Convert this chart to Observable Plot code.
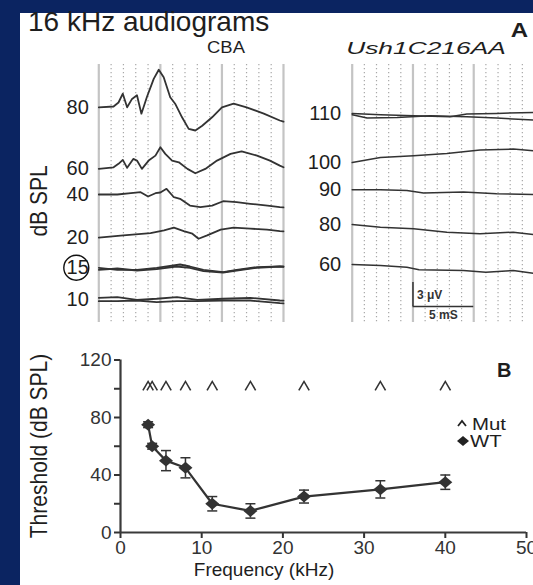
<!DOCTYPE html>
<html><head><meta charset="utf-8">
<script src="https://cdn.jsdelivr.net/npm/d3@7"></script>
<script src="https://cdn.jsdelivr.net/npm/@observablehq/plot@0.6"></script>
<style>
html,body{margin:0;padding:0;width:533px;height:585px;overflow:hidden;background:#0b2461;font-family:"Liberation Sans",Arial,sans-serif;}
#page{position:absolute;left:20px;top:13px;width:513px;height:572px;background:#fff;}
.lbl{position:absolute;white-space:nowrap;line-height:1;color:#1e1e1e;font-family:"Liberation Sans",Arial,sans-serif;}
svg.pl{position:absolute;max-width:none;overflow:hidden;}
</style></head><body>
<div id="page"></div>
<div id="root" style="position:absolute;left:0;top:0;width:533px;height:585px;"></div>
<script>
// ---------- Panel A data (time in ms, amplitude in µV) ----------
const gridMajor = [0, 5, 10, 15];
const gridMinor = [1, 2, 3, 4, 6, 7, 8, 9, 11, 12, 13, 14];

const cbaLevels = ["80", "60", "40", "20", "15", "10"];
const cbaOffsets = [26.9, 19.2, 16.0, 10.6, 6.84, 2.84];

const cba80T = [0,1.2,1.6,1.95,2.3,2.7,3.1,3.46,3.9,4.46,4.87,5.27,5.8,6.2,6.76,7.3,7.84,8.4,9.2,10,10.95,12,13.4,14.7,15];
const cba80A = [0,0.1,0.6,1.7,0,1.05,1.5,-0.8,1.25,3.55,4.7,3.75,1.25,0.45,-1.25,-2.7,-2.9,-2.3,-1.25,0,0.45,0,-0.8,-1.65,-1.8];
const cba60T = [0,1.2,1.6,1.95,2.3,2.8,3.1,3.5,4.05,4.6,5.0,5.4,5.95,6.5,7.2,7.84,8.65,9.6,10.7,11.6,12.85,13.9,14.7,15];
const cba60A = [0,0.2,0.63,1.13,0.13,1.25,1.04,0,1.04,1.66,2.7,1.88,1.04,0.83,0,-0.55,0,1.04,1.88,2.2,1.66,1.04,0.41,0.2];
const cba40T = [0,1.5,2.6,3.4,4.0,4.6,5.0,5.5,6.1,6.6,7.4,8.25,9.2,10.1,11.2,12.3,13.7,14.7,15];
const cba40A = [0,0,0.16,0.29,-0.25,0.16,0.25,0.71,-0.34,-0.54,-1.38,-1.59,-1.38,-0.84,-0.96,-1.16,-1.38,-1.59,-1.62];
const cba20T = [0,2.0,4.2,5.3,6.1,6.9,7.6,8.1,8.8,9.9,10.95,12.3,13.66,14.7,15];
const cba20A = [0,0.29,0.58,0.91,1.25,0.83,0.5,-0.13,0.29,1.0,1.25,1.13,1.0,0.83,0.8];
const cba15aT = [0,1.5,3.1,4.7,6.6,7.4,8.5,10.1,11.2,12.85,14.7,15];
const cba15aA = [0,-0.25,-0.25,0,0.41,0.16,-0.25,-0.55,-0.25,0.08,0.16,0.16];
const cba15bT = [0,1.5,3.1,4.7,6.3,7.4,8.5,10.1,11.2,12.85,14.7,15];
const cba15bA = [-0.25,-0.09,-0.34,-0.18,0.16,0,-0.42,-0.59,-0.34,0,0.16,0.1];
const cba10T = [0,1.5,3.1,4.7,6.35,8,10.1,12.3,14.7,15];
const cba10aA = [0.25,0.33,0,0.13,0.33,0,0.13,0.25,-0.09,-0.1];
const cba10bA = [-0.18,-0.18,-0.09,-0.3,-0.18,-0.18,-0.09,-0.09,-0.43,-0.45];

const ushLevels = ["110", "100", "90", "80", "60"];
const ushOffsets = [26.1, 20.0, 16.6, 12.25, 7.25];

const ush110aT = [0,2.32,5.05,8.06,9.43,11.89,14.89,15];
const ush110aA = [0.04,-0.13,-0.25,-0.38,-0.04,0.04,0.16,0.16];
const ush110bT = [0,1.23,3.69,6.42,9.43,11.89,14.89,15];
const ush110bA = [-0.13,-0.54,-0.46,-0.25,-0.38,-0.54,-0.79,-0.8];
const ush100T = [0,2.32,5.05,7.79,10.52,13.25,14.89,15];
const ush100A = [0,0.63,0.84,1.13,1.55,1.68,1.46,1.46];
const ush90T = [0,2.32,4.5,5.87,9.15,11.89,14.89,15];
const ush90A = [0,0,-0.09,-0.42,-0.3,-0.5,-0.59,-0.6];
const ush80T = [0,2.32,5.05,7.79,10.52,13.25,14.89,15];
const ush80A = [0,-0.34,-0.54,-0.96,-1.16,-0.96,-1.25,-1.25];
const ush60T = [0,2.32,4.5,5.5,9.15,11.0,13.25,14.89,15];
const ush60A = [0,-0.13,-0.34,-0.66,-0.75,-0.96,-0.75,-1.09,-1.1];

const scaleBarTime = [5, 10];   // 5 mS
const scaleBarVolt = [2, 5];    // 3 µV

// ---------- Panel B data ----------
const freqKHz = [3.4, 3.9, 5.6, 8, 11.3, 16, 22.6, 32, 40];
const wtThreshold = [75, 60, 50, 45, 20, 15, 25, 30, 35];
const wtError = [2, 2, 7, 7, 5, 5, 4.5, 6, 5];
const mutThreshold = [102, 102, 102, 102, 102, 102, 102, 102, 102];
const xTicks = [0, 10, 20, 30, 40, 50];
const yTicks = [0, 20, 40, 60, 80, 100, 120];

// ---------- helpers ----------
const FONT = "'Liberation Sans', Arial, sans-serif";
const root = document.getElementById("root");
function rows(T, A, off, id) { return T.map((t, i) => ({t, v: off + A[i], id})); }
function label(text, x, base, fs, o = {}) {
  const d = document.createElement("div");
  d.className = "lbl";
  d.textContent = text;
  const lh = o.lh || 1;
  d.style.fontSize = fs + "px";
  d.style.lineHeight = lh;
  d.style.left = x + "px";
  d.style.top = (base - fs * (lh / 2 + 0.3465)) + "px";
  if (o.weight) d.style.fontWeight = o.weight;
  if (o.italic) d.style.fontStyle = "italic";
  const sx = o.sx || 1;
  const tx = o.anchor === "middle" ? "-50%" : o.anchor === "end" ? "-100%" : "0";
  d.style.transformOrigin = o.anchor === "middle" ? "50% 50%" : o.anchor === "end" ? "100% 50%" : "0 50%";
  d.style.transform = `translateX(${tx}) scaleX(${sx})`;
  root.appendChild(d);
  return d;
}
function vlabel(text, cx, cy, fs, sy = 1) {
  const d = document.createElement("div");
  d.className = "lbl";
  d.textContent = text;
  d.style.fontSize = fs + "px";
  d.style.left = cx + "px";
  d.style.top = cy + "px";
  d.style.transform = `translate(-50%,-50%) rotate(-90deg) scaleY(${sy})`;
  root.appendChild(d);
}
function place(svg, left, top) {
  svg.classList.add("pl");
  svg.style.left = left + "px";
  svg.style.top = top + "px";
  root.appendChild(svg);
}

const diamondSym = {draw(ctx, size) { const r = Math.sqrt(size / Math.PI); ctx.moveTo(0, -r * 0.85); ctx.lineTo(r, 0); ctx.lineTo(0, r * 0.85); ctx.lineTo(-r, 0); ctx.closePath(); }};
const caretSym = {draw(ctx, size) { const r = Math.sqrt(size / Math.PI); ctx.moveTo(-r, r * 0.85); ctx.lineTo(0, -r * 0.85); ctx.lineTo(r, r * 0.85); }};
const capSym = {draw(ctx, size) { const r = Math.sqrt(size / Math.PI); ctx.moveTo(-r, 0); ctx.lineTo(r, 0); }};

const ink = "#333";
const yDomA = [0, 32.25];

// ---------- Panel A, left (CBA) ----------
const cbaRows = [
  ...rows(cba80T, cba80A, cbaOffsets[0], "80"),
  ...rows(cba60T, cba60A, cbaOffsets[1], "60"),
  ...rows(cba40T, cba40A, cbaOffsets[2], "40"),
  ...rows(cba20T, cba20A, cbaOffsets[3], "20"),
  ...rows(cba15aT, cba15aA, cbaOffsets[4], "15a"),
  ...rows(cba15bT, cba15bA, cbaOffsets[4], "15b"),
  ...rows(cba10T, cba10aA, cbaOffsets[5], "10a"),
  ...rows(cba10T, cba10bA, cbaOffsets[5], "10b")
];
const gridMarks = [
  Plot.ruleX(gridMinor, {stroke: "#a8a8a8", strokeWidth: 1.2, strokeDasharray: "1.2,2.8"}),
  Plot.ruleX(gridMajor, {stroke: "#c4c4c4", strokeWidth: 2.2})
];
const pA1 = Plot.plot({
  width: 290, height: 270, marginLeft: 98.3, marginRight: 7, marginTop: 8, marginBottom: 4,
  x: {domain: [0, 15], axis: null}, y: {domain: yDomA, axis: null},
  style: {background: "transparent", fontFamily: FONT},
  marks: [
    ...gridMarks,
    Plot.line(cbaRows, {x: "t", y: "v", z: "id", stroke: ink, strokeWidth: 1.8}),
    Plot.text(cbaLevels, {x: () => 0, y: (d, i) => cbaOffsets[i], text: d => d, textAnchor: "end", dx: -10, fontSize: 20, fill: "#1e1e1e"}),
    Plot.dot(cbaLevels.filter(d => d === "15"), {x: () => 0, y: () => cbaOffsets[4], dx: -22.5, r: 12.5, stroke: "#111", strokeWidth: 1.4, fill: "none"})
  ]
});
place(pA1, 0, 56);

// ---------- Panel A, right (Ush1C216AA) ----------
const ushRows = [
  ...rows(ush110aT, ush110aA, ushOffsets[0], "110a"),
  ...rows(ush110bT, ush110bA, ushOffsets[0], "110b"),
  ...rows(ush100T, ush100A, ushOffsets[1], "100"),
  ...rows(ush90T, ush90A, ushOffsets[2], "90"),
  ...rows(ush80T, ush80A, ushOffsets[3], "80"),
  ...rows(ush60T, ush60A, ushOffsets[4], "60")
];
const pA2 = Plot.plot({
  width: 260, height: 270, marginLeft: 71.7, marginRight: 6, marginTop: 8, marginBottom: 4,
  x: {domain: [0, 15], axis: null}, y: {domain: yDomA, axis: null},
  style: {background: "transparent", fontFamily: FONT},
  marks: [
    ...gridMarks,
    Plot.line(ushRows, {x: "t", y: "v", z: "id", stroke: ink, strokeWidth: 1.5}),
    Plot.text(ushLevels, {x: () => 0, y: (d, i) => ushOffsets[i], text: d => d, textAnchor: "end", dx: -11, fontSize: 20, fill: "#1e1e1e"}),
    Plot.ruleX([scaleBarTime[0]], {y1: scaleBarVolt[0], y2: scaleBarVolt[1], stroke: "#333", strokeWidth: 1.5}),
    Plot.ruleY([scaleBarVolt[0]], {x1: scaleBarTime[0], x2: scaleBarTime[1], stroke: "#333", strokeWidth: 1.5}),
    Plot.text(["3 μV"], {x: () => scaleBarTime[0], y: () => (scaleBarVolt[0] + scaleBarVolt[1]) / 2, dx: 4, dy: 1, textAnchor: "start", fontSize: 12, fontWeight: "bold", fill: "#333"}),
    Plot.text(["5 mS"], {x: () => (scaleBarTime[0] + scaleBarTime[1]) / 2, y: () => scaleBarVolt[0], dy: 9, fontSize: 12, fontWeight: "bold", fill: "#333"})
  ]
});
place(pA2, 280, 56);

// ---------- Panel B ----------
const wtRows = freqKHz.map((f, i) => ({f, thr: wtThreshold[i], lo: wtThreshold[i] - wtError[i], hi: wtThreshold[i] + wtError[i]}));
const mutRows = freqKHz.map((f, i) => ({f, thr: mutThreshold[i]}));
const pB = Plot.plot({
  width: 533, height: 245, marginLeft: 120, marginRight: 7, marginTop: 19.5, marginBottom: 53,
  x: {domain: [0, 50]}, y: {domain: [0, 120]},
  style: {background: "transparent", fontFamily: FONT, fontSize: "19px"},
  marks: [
    Plot.axisX({ticks: xTicks, tickSize: 6, tickPadding: 2, label: null, color: "#333", strokeWidth: 2, tickFormat: d => String(d)}),
    Plot.axisY({ticks: yTicks, tickSize: 6, tickPadding: 3, label: null, color: "#333", strokeWidth: 2, tickFormat: d => d % 40 === 0 ? String(d) : ""}),
    Plot.ruleY([0], {stroke: "#3a3a3a", strokeWidth: 2.2}),
    Plot.ruleX([0], {stroke: "#3a3a3a", strokeWidth: 2.2}),
    Plot.ruleX(wtRows, {x: "f", y1: "lo", y2: "hi", stroke: ink, strokeWidth: 1.5}),
    Plot.dot(wtRows, {x: "f", y: "lo", symbol: capSym, r: 5, stroke: ink, strokeWidth: 1.5}),
    Plot.dot(wtRows, {x: "f", y: "hi", symbol: capSym, r: 5, stroke: ink, strokeWidth: 1.5}),
    Plot.line(wtRows, {x: "f", y: "thr", stroke: "#333", strokeWidth: 2.2}),
    Plot.dot(wtRows, {x: "f", y: "thr", symbol: diamondSym, r: 7, fill: "#333", stroke: "none"}),
    Plot.dot(mutRows, {x: "f", y: "thr", symbol: caretSym, r: 5.2, stroke: "#333", fill: "none", strokeWidth: 1.6})
  ]
});
place(pB, 0, 340);

// ---------- text ----------
label("16 kHz audiograms", 28, 32, 28, {lh: 0.8});
label("A", 528, 37, 20, {weight: "bold", anchor: "end", sx: 1.2});
label("CBA", 226, 54, 16, {anchor: "middle", sx: 1.15, lh: 0.8});
label("Ush1C216AA", 426, 54, 17, {anchor: "middle", italic: true, sx: 1.55});
vlabel("dB SPL", 38, 201, 21, 1.15);
label("B", 497, 377, 20, {weight: "bold"});
label("Frequency (kHz)", 264, 576, 19, {anchor: "middle"});
vlabel("Threshold (dB SPL)", 39, 446, 21, 1.1);

// legend (HTML)
function legendItem(svgPath, fillIt, cx, cy, text, tx) {
  const s = document.createElementNS("http://www.w3.org/2000/svg", "svg");
  s.setAttribute("width", 14); s.setAttribute("height", 12);
  s.style.position = "absolute"; s.style.left = (cx - 7) + "px"; s.style.top = (cy - 6) + "px";
  const p = document.createElementNS("http://www.w3.org/2000/svg", "path");
  p.setAttribute("d", svgPath);
  p.setAttribute("fill", fillIt ? "#222" : "none");
  p.setAttribute("stroke", fillIt ? "none" : "#222");
  p.setAttribute("stroke-width", 1.8);
  s.appendChild(p);
  root.appendChild(s);
  label(text, tx, cy + 6, 17, {sx: 1.2});
}
legendItem("M3,8 L7,3 L11,8", false, 462, 424, "Mut", 472);
legendItem("M1,6 L7,1 L13,6 L7,11 Z", true, 463, 441, "WT", 470);
</script>
</body></html>
